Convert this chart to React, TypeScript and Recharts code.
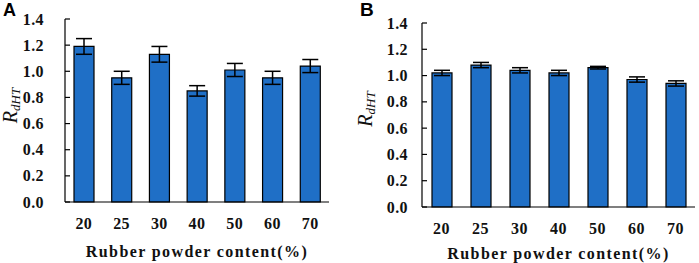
import React from "react";
import { BarChart, Bar, XAxis, YAxis, ErrorBar } from "recharts";

const categories = ["20", "25", "30", "40", "50", "60", "70"];
const valuesA = [1.19, 0.95, 1.13, 0.85, 1.01, 0.95, 1.04];
const errorsA = [0.06, 0.05, 0.06, 0.04, 0.05, 0.05, 0.05];
const valuesB = [1.02, 1.08, 1.04, 1.02, 1.06, 0.97, 0.94];
const errorsB = [0.02, 0.02, 0.02, 0.02, 0.01, 0.02, 0.02];
const yTicks = [0, 0.2, 0.4, 0.6, 0.8, 1.0, 1.2, 1.4];

const dataA = categories.map((c, i) => ({ name: c, value: valuesA[i], err: errorsA[i] }));
const dataB = categories.map((c, i) => ({ name: c, value: valuesB[i], err: errorsB[i] }));

const SERIF = "'Liberation Serif', serif";
const BLUE = "#1f6fc6";

function makeYTick(gap: number) {
  return (props: any) => {
    const { x, y, payload } = props;
    return (
      <g>
        <line x1={x} x2={x + 5} y1={y} y2={y} stroke="#000" strokeWidth={1.2} />
        <text x={x - gap} y={y} dy="0.35em" textAnchor="end" fontFamily={SERIF} fontWeight="bold" fontSize={16} letterSpacing={0.4} fill="#111">
          {Number(payload.value).toFixed(1)}
        </text>
      </g>
    );
  };
}

function yLabel(cx: number, shift: number) {
  return (props: any) => {
    const vb = props.viewBox;
    const cy = vb.y + vb.height / 2 + shift;
    return (
      <text x={cx} y={cy} transform={`rotate(-90 ${cx} ${cy})`} textAnchor="middle" dy="0.35em" fontFamily={SERIF} fontStyle="italic" fontSize={20} fill="#111">
        R
        <tspan fontSize={13} dy={3}>dHT</tspan>
      </text>
    );
  };
}

function xLabel(dy: number) {
  return (props: any) => {
    const vb = props.viewBox;
    return (
      <text x={vb.x + vb.width / 2} y={vb.y + dy} textAnchor="middle" fontFamily={SERIF} fontWeight="bold" fontSize={16} fill="#111" letterSpacing={1.4}>
        Rubber powder content(%)
      </text>
    );
  };
}

function Panel(props: { data: any[]; width: number; margin: any; yGap: number; xTickMargin: number; titleDy: number; yLabelX: number; yLabelShift: number }) {
  const { data, width, margin, yGap, xTickMargin, titleDy, yLabelX, yLabelShift } = props;
  return (
    <BarChart width={width} height={263} data={data} margin={margin} barSize={20}>
      <XAxis
        dataKey="name"
        axisLine={{ stroke: "#000", strokeWidth: 1.2 }}
        tickLine={false}
        tickMargin={xTickMargin}
        height={35}
        tick={{ fontFamily: SERIF, fontWeight: "bold", fontSize: 16, fill: "#111", letterSpacing: 0.4 }}
        label={{ content: xLabel(titleDy) }}
      />
      <XAxis xAxisId="top" orientation="top" dataKey="name" height={0} tick={false} tickLine={false} axisLine={{ stroke: "#d9d9d9" }} />
      <YAxis
        domain={[0, 1.4]}
        ticks={yTicks}
        width={40}
        tickSize={0}
        tickMargin={0}
        tickLine={false}
        axisLine={{ stroke: "#000", strokeWidth: 1.2 }}
        tick={makeYTick(yGap)}
        label={{ content: yLabel(yLabelX, yLabelShift) }}
        interval={0}
      />
      <YAxis yAxisId="right" orientation="right" domain={[0, 1.4]} width={0} tick={false} tickLine={false} axisLine={{ stroke: "#d9d9d9" }} />
      <Bar dataKey="value" fill={BLUE} stroke="#000" strokeWidth={1.2} isAnimationActive={false}>
        <ErrorBar dataKey="err" width={8} stroke="#000" strokeWidth={1.5} />
      </Bar>
    </BarChart>
  );
}

export default function App() {
  return (
    <div style={{ position: "absolute", left: 0, top: 0, width: 699, height: 263, background: "#fff" }}>
      <div style={{ position: "absolute", left: 0, top: 0 }}>
        <Panel data={dataA} width={350} margin={{ top: 19, right: 21, left: 25, bottom: 26 }} yGap={21} xTickMargin={10} titleDy={55} yLabelX={10} yLabelShift={-5} />
      </div>
      <div style={{ position: "absolute", left: 350, top: 0 }}>
        <Panel data={dataB} width={349} margin={{ top: 23, right: 4, left: 32, bottom: 21 }} yGap={14} xTickMargin={10} titleDy={52} yLabelX={15} yLabelShift={-6} />
      </div>
      <div style={{ position: "absolute", left: 3, top: 0, fontFamily: "'Liberation Sans', Arial, sans-serif", fontWeight: "bold", fontSize: 18 }}>A</div>
      <div style={{ position: "absolute", left: 360, top: -1, fontFamily: "'Liberation Sans', Arial, sans-serif", fontWeight: "bold", fontSize: 19 }}>B</div>
    </div>
  );
}
